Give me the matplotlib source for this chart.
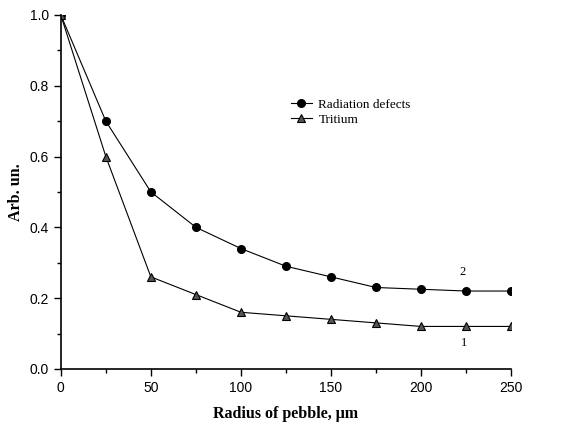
import matplotlib
matplotlib.use("Agg")
import matplotlib.pyplot as plt
from matplotlib.ticker import MultipleLocator

# Données
radius = [0, 25, 50, 75, 100, 125, 150, 175, 200, 225, 250]
defects = [1.0, 0.70, 0.50, 0.40, 0.34, 0.29, 0.26, 0.23, 0.225, 0.22, 0.22]
tritium = [1.0, 0.60, 0.26, 0.21, 0.16, 0.15, 0.14, 0.13, 0.12, 0.12, 0.12]

fig = plt.figure(figsize=(5.68, 4.26), dpi=100)
ax = fig.add_axes([0.107, 0.134, 0.793, 0.831])

ax.plot(radius, defects, color='black', lw=0.8, marker='o', ms=5.5,
        mfc='black', mec='black', label='Radiation defects')
ax.plot(radius, tritium, color='black', lw=0.8, marker='^', ms=6,
        mfc='#555555', mec='black', mew=0.8, label='Tritium')

ax.set_xlim(0, 250)
ax.set_ylim(0, 1.0)
ax.xaxis.set_major_locator(MultipleLocator(50))
ax.xaxis.set_minor_locator(MultipleLocator(25))
ax.yaxis.set_major_locator(MultipleLocator(0.2))
ax.yaxis.set_minor_locator(MultipleLocator(0.1))
ax.yaxis.set_major_formatter(plt.FormatStrFormatter('%.1f'))

ax.spines['top'].set_visible(False)
ax.spines['right'].set_visible(False)
for s in ('left', 'bottom'):
    ax.spines[s].set_linewidth(1.2)
ax.tick_params(which='both', direction='out', width=1.0)
ax.tick_params(which='major', length=5, labelsize=10)
ax.tick_params(which='minor', length=3)
for lab in ax.get_xticklabels() + ax.get_yticklabels():
    lab.set_family('Liberation Sans')

ax.set_xlabel('Radius of pebble, \u03bcm', family='Liberation Serif',
              fontweight='bold', fontsize=11.5, labelpad=8)
ax.set_ylabel('Arb. un.', family='Liberation Serif',
              fontweight='bold', fontsize=11.5, labelpad=4)

ax.text(223, 0.265, '2', family='Liberation Serif', fontsize=9, ha='center')
ax.text(224, 0.065, '1', family='Liberation Serif', fontsize=9, ha='center')

ax.legend(loc='upper left', bbox_to_anchor=(0.49, 0.79), frameon=False,
          prop={'family': 'Liberation Serif', 'size': 9.5},
          handlelength=1.6, handletextpad=0.5, labelspacing=0.2,
          borderpad=0.2)

plt.savefig('out.png', dpi=100)
